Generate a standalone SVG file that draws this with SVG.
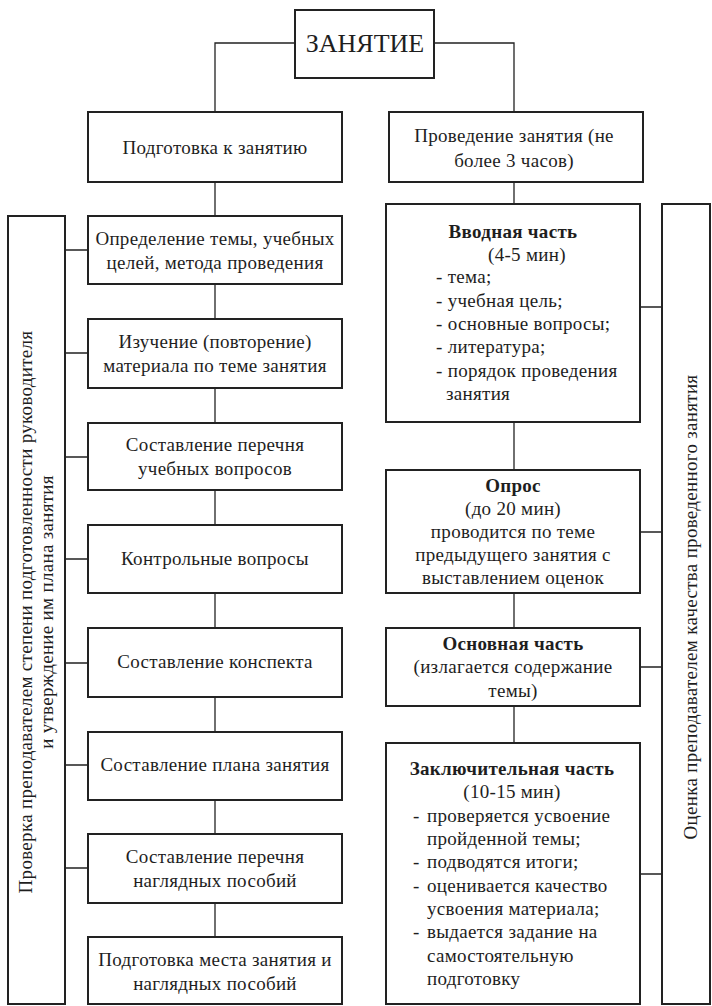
<svg xmlns="http://www.w3.org/2000/svg" width="712" height="1006" viewBox="0 0 712 1006" font-family="Liberation Serif, Times New Roman, serif">
<style>
text{font-size:19px;letter-spacing:0.3px;fill:#1e1e1e}
.c{text-anchor:middle}
.b{font-weight:bold}
.box{fill:#fff;stroke:#222;stroke-width:2}
.ln{fill:none;stroke:#222;stroke-width:1.3}
</style>
<rect width="712" height="1006" fill="#fff"/>
<g id="connectors">
<path class="ln" d="M295 43H215V112M434 43H514V112"/>
<path class="ln" d="M215 182V937"/>
<path class="ln" d="M514 182V743"/>
<path class="ln" d="M65 250H88M65 353H88M65 457H88M65 559H88M65 663H88M65 765H88M65 868H88"/>
<path class="ln" d="M640 307H662M640 532H662M640 667H662M640 874H662"/>
</g>
<g id="n-zanyatie"><rect class="box" x="295" y="10" width="139" height="68"/><text class="c" x="365" y="52" style="font-size:26px;letter-spacing:0">ЗАНЯТИЕ</text></g>
<g id="n-podgotovka"><rect class="box" x="88" y="112" width="254" height="70"/><text class="c" x="215" y="154">Подготовка к занятию</text></g>
<g id="n-provedenie"><rect class="box" x="389" y="112" width="254" height="70"/><text class="c" x="514" y="142">Проведение занятия (не</text><text class="c" x="514" y="167">более 3 часов)</text></g>
<g id="n-check"><rect class="box" x="8" y="216" width="57" height="788"/><text class="c" transform="translate(32 612) rotate(-90)">Проверка преподавателем степени подготовленности руководителя</text><text class="c" transform="translate(53 612) rotate(-90)">и утверждение им плана занятия</text></g>
<g id="n-ocenka"><rect class="box" x="662" y="204" width="48" height="800"/><text class="c" transform="translate(697 607) rotate(-90)">Оценка преподавателем качества проведенного занятия</text></g>
<g id="n-l1"><rect class="box" x="88" y="216" width="254" height="68"/><text class="c" x="215" y="245">Определение темы, учебных</text><text class="c" x="215" y="269">целей, метода проведения</text></g>
<g id="n-l2"><rect class="box" x="88" y="319" width="254" height="69"/><text class="c" x="215" y="348">Изучение (повторение)</text><text class="c" x="215" y="372">материала по теме занятия</text></g>
<g id="n-l3"><rect class="box" x="88" y="423" width="254" height="67"/><text class="c" x="215" y="451">Составление перечня</text><text class="c" x="215" y="475">учебных вопросов</text></g>
<g id="n-l4"><rect class="box" x="88" y="525" width="254" height="68"/><text class="c" x="215" y="565">Контрольные вопросы</text></g>
<g id="n-l5"><rect class="box" x="88" y="628" width="254" height="69"/><text class="c" x="215" y="668">Составление конспекта</text></g>
<g id="n-l6"><rect class="box" x="88" y="732" width="254" height="68"/><text class="c" x="215" y="771">Составление плана занятия</text></g>
<g id="n-l7"><rect class="box" x="88" y="834" width="254" height="69"/><text class="c" x="215" y="863">Составление перечня</text><text class="c" x="215" y="887">наглядных пособий</text></g>
<g id="n-l8"><rect class="box" x="88" y="937" width="254" height="67"/><text class="c" x="215" y="966">Подготовка места занятия и</text><text class="c" x="215" y="990">наглядных пособий</text></g>
<g id="n-r1"><rect class="box" x="386" y="204" width="254" height="218"/>
<text class="c b" x="513" y="238">Вводная часть</text>
<text x="488" y="261">(4-5 мин)</text>
<text x="436" y="283">- тема;</text>
<text x="436" y="307">- учебная цель;</text>
<text x="436" y="330">- основные вопросы;</text>
<text x="436" y="353">- литература;</text>
<text x="436" y="377">- порядок проведения</text>
<text x="446" y="400">занятия</text></g>
<g id="n-r2"><rect class="box" x="386" y="470" width="254" height="123"/>
<text class="c b" x="513" y="492">Опрос</text>
<text class="c" x="513" y="515">(до 20 мин)</text>
<text class="c" x="513" y="538">проводится по теме</text>
<text class="c" x="513" y="561">предыдущего занятия с</text>
<text class="c" x="513" y="584">выставлением оценок</text></g>
<g id="n-r3"><rect class="box" x="386" y="628" width="254" height="78"/>
<text class="c b" x="513" y="650">Основная часть</text>
<text class="c" x="513" y="673">(излагается содержание</text>
<text class="c" x="513" y="697">темы)</text></g>
<g id="n-r4"><rect class="box" x="386" y="743" width="254" height="261"/>
<text class="c b" x="512" y="775">Заключительная часть</text>
<text class="c" x="512" y="798">(10-15 мин)</text>
<text x="413" y="822">-</text><text x="427" y="822">проверяется усвоение</text>
<text x="427" y="845">пройденной темы;</text>
<text x="413" y="868">-</text><text x="427" y="868">подводятся итоги;</text>
<text x="413" y="892">-</text><text x="427" y="892">оценивается качество</text>
<text x="427" y="915">усвоения материала;</text>
<text x="413" y="938">-</text><text x="427" y="938">выдается задание на</text>
<text x="427" y="962">самостоятельную</text>
<text x="427" y="985">подготовку</text></g>
</svg>
